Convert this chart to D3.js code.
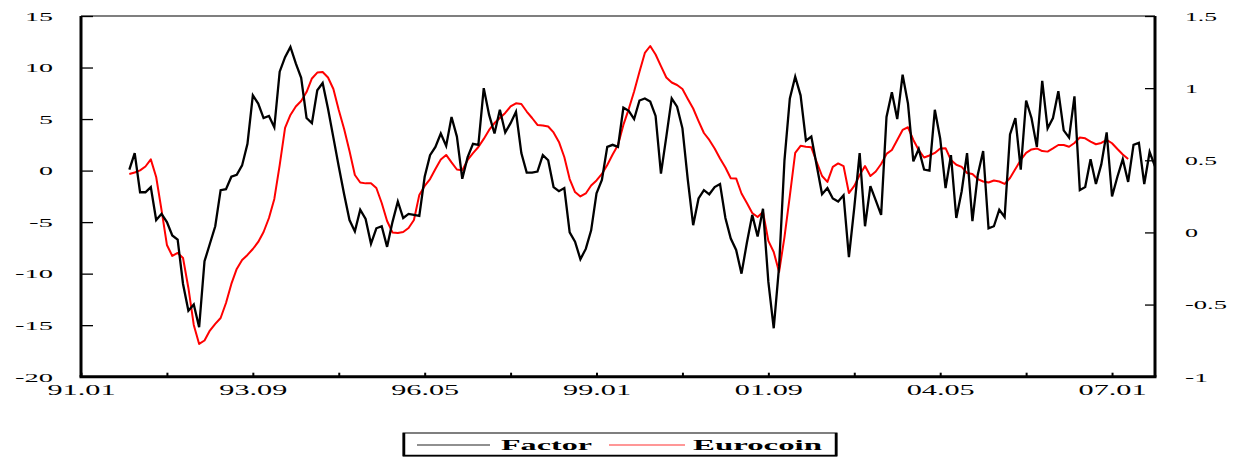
<!DOCTYPE html>
<html>
<head>
<meta charset="utf-8">
<script src="https://cdn.jsdelivr.net/npm/d3@7"></script>
<style>
  html, body { margin: 0; padding: 0; background: #fff; }
  svg { display: block; }
  text { font-family: "Liberation Serif", "Times New Roman", serif; fill: #000; }
</style>
</head>
<body>
<svg id="chart" width="1246" height="458"></svg>
<script>
// Months counted from January 1991 (0 = 91.01)
const firstMonth = 9;
const lastMonth = 200;

// Common factor, monthly (left axis)
const factor = [
  0.1, 1.7, -2.1, -2.1, -1.6, -4.8, -4.2, -5.0, -6.3, -6.7,
  -11.0, -13.6, -13.0, -15.2, -8.8, -7.1, -5.4, -1.9, -1.8, -0.6,
  -0.4, 0.5, 2.6, 7.3, 6.5, 5.1, 5.3, 4.2, 9.6, 11.0,
  12.0, 10.4, 9.0, 5.1, 4.6, 7.8, 8.5, 6.0, 3.2, 0.4,
  -2.3, -4.8, -5.9, -3.8, -4.7, -7.1, -5.6, -5.4, -7.4, -5.0,
  -3.0, -4.6, -4.2, -4.3, -4.4, -0.6, 1.5, 2.3, 3.6, 2.4,
  5.2, 3.3, -0.8, 1.3, 2.6, 2.5, 8.0, 5.4, 3.6, 5.9,
  3.7, 4.6, 5.7, 1.7, -0.2, -0.2, -0.1, 1.5, 1.0, -1.6,
  -2.0, -1.7, -6.0, -6.9, -8.6, -7.6, -5.8, -2.2, -0.9, 2.3,
  2.5, 2.3, 6.1, 5.8, 5.0, 6.8, 7.0, 6.7, 5.3, -0.3,
  3.3, 7.0, 6.2, 4.1, -0.9, -5.3, -2.7, -1.9, -2.3, -1.6,
  -1.3, -4.6, -6.6, -7.7, -10.0, -7.0, -4.3, -6.4, -3.7, -10.8,
  -15.3, -9.3, 1.0, 7.0, 9.1, 7.3, 2.9, 3.3, 0.5, -2.3,
  -1.7, -2.7, -3.0, -2.4, -8.4, -3.6, 1.7, -5.4, -1.5, -2.9,
  -4.3, 5.2, 7.6, 5.0, 9.3, 6.5, 0.9, 2.1, 0.1, 0.0,
  5.9, 3.1, -1.7, 1.5, -4.6, -2.0, 1.7, -4.9, -0.4, 1.9,
  -5.6, -5.4, -3.8, -4.5, 3.5, 5.1, 0.1, 6.8, 5.1, 2.3,
  8.7, 4.1, 5.1, 7.7, 3.9, 3.2, 7.2, -1.9, -1.6, 1.1,
  -1.3, 0.6, 3.7, -2.5, -0.6, 1.1, -1.1, 2.5, 2.7, -1.3,
  1.8, 0.4
];

// Eurocoin indicator, monthly (right axis)
const eurocoin = [
  0.405, 0.415, 0.43, 0.457, 0.506, 0.384, 0.155, -0.087, -0.163, -0.142,
  -0.177, -0.385, -0.641, -0.773, -0.749, -0.68, -0.634, -0.593, -0.489, -0.357,
  -0.253, -0.191, -0.156, -0.115, -0.066, 0.003, 0.1, 0.232, 0.467, 0.724,
  0.814, 0.873, 0.911, 0.973, 1.067, 1.108, 1.112, 1.074, 0.994, 0.849,
  0.717, 0.564, 0.398, 0.346, 0.34, 0.34, 0.308, 0.204, 0.079, 0.0,
  -0.004, 0.003, 0.031, 0.086, 0.26, 0.322, 0.37, 0.44, 0.506, 0.537,
  0.485, 0.436, 0.43, 0.502, 0.549, 0.592, 0.648, 0.71, 0.758, 0.793,
  0.828, 0.873, 0.895, 0.89, 0.838, 0.793, 0.745, 0.741, 0.734, 0.693,
  0.627, 0.523, 0.37, 0.28, 0.249, 0.27, 0.325, 0.36, 0.405, 0.467,
  0.54, 0.606, 0.745, 0.855, 0.977, 1.114, 1.244, 1.292, 1.233, 1.153,
  1.074, 1.039, 1.022, 0.994, 0.925, 0.859, 0.772, 0.689, 0.641, 0.582,
  0.512, 0.45, 0.375, 0.374, 0.27, 0.204, 0.135, 0.107, 0.142, -0.059,
  -0.136, -0.274, -0.032, 0.253, 0.551, 0.6, 0.594, 0.59, 0.488, 0.391,
  0.35, 0.454, 0.478, 0.46, 0.273, 0.322, 0.398, 0.46, 0.391, 0.422,
  0.474, 0.544, 0.571, 0.641, 0.71, 0.729, 0.641, 0.571, 0.519, 0.533,
  0.551, 0.582, 0.584, 0.502, 0.469, 0.454, 0.412, 0.405, 0.37, 0.353,
  0.346, 0.36, 0.353, 0.336, 0.377, 0.44, 0.502, 0.551, 0.575, 0.582,
  0.564, 0.56, 0.582, 0.606, 0.606, 0.594, 0.62, 0.658, 0.652, 0.63,
  0.611, 0.62, 0.641, 0.618, 0.578, 0.54, 0.509
];

// Axis ticks
const xTickMonths = [0, 16, 32, 48, 64, 80, 96, 112, 128, 144, 160, 176, 192];
const xTickLabels = ["91.01", "", "93.09", "", "96.05", "", "99.01", "", "01.09", "", "04.05", "", "07.01"];
const leftTicks = [15, 10, 5, 0, -5, -10, -15, -20];
const rightTicks = [1.5, 1, 0.5, 0, -0.5, -1];
const seriesNames = ["Factor", "Eurocoin"];

const svg = d3.select("#chart");
const plotLeft = 81, plotRight = 1155, plotTop = 16, plotBottom = 376.7;

const x = d3.scaleLinear().domain([0, 200]).range([plotLeft, plotRight]);
const yL = d3.scaleLinear().domain([-20, 15]).range([plotBottom, plotTop]);
const yR = d3.scaleLinear().domain([-1, 1.5]).range([plotBottom, plotTop]);

// Stretched serif labels: width from character count
function labelWidth(s, digit, dot, minus) {
  let w = 0;
  for (const c of s) w += c === "." ? dot : c === "-" ? minus : digit;
  return w;
}

// Series lines
const factorPts = factor.map((v, i) => [firstMonth + i, v]);
const euroPts = eurocoin.map((v, i) => [firstMonth + i, v]);

svg.append("path")
  .datum(euroPts)
  .attr("fill", "none")
  .attr("stroke", "#ff0000")
  .attr("stroke-width", 2)
  .attr("stroke-linejoin", "round")
  .attr("d", d3.line().x(d => x(d[0])).y(d => yR(d[1])));

svg.append("path")
  .datum(factorPts)
  .attr("fill", "none")
  .attr("stroke", "#000")
  .attr("stroke-width", 2.3)
  .attr("stroke-linejoin", "miter")
  .attr("d", d3.line().x(d => x(d[0])).y(d => yL(d[1])));

// Left axis with inward ticks
const gL = svg.append("g").attr("transform", `translate(${plotLeft},0)`)
  .call(d3.axisLeft(yL).tickValues(leftTicks).tickSize(-12).tickPadding(28)
    .tickFormat(d => String(d)));
gL.select(".domain").remove();
gL.selectAll(".tick line").attr("stroke", "#000").attr("stroke-width", 1.3);
gL.selectAll(".tick text")
  .attr("font-size", 12)
  .attr("font-family", "Liberation Serif")
  .attr("dy", "0.36em")
  .attr("lengthAdjust", "spacingAndGlyphs")
  .attr("textLength", d => labelWidth(String(d), 14, 6, 10));

// Right axis with inward ticks
const gR = svg.append("g").attr("transform", `translate(${plotRight},0)`)
  .call(d3.axisRight(yR).tickValues(rightTicks).tickSize(-10).tickPadding(30)
    .tickFormat(d => String(d)));
gR.select(".domain").remove();
gR.selectAll(".tick line").attr("stroke", "#000").attr("stroke-width", 1.3);
gR.selectAll(".tick text")
  .attr("font-size", 12)
  .attr("font-family", "Liberation Serif")
  .attr("dy", "0.36em")
  .attr("lengthAdjust", "spacingAndGlyphs")
  .attr("textLength", d => labelWidth(String(d), 13, 6, 10));

// Bottom axis: short upward marks, every second one labelled
const gB = svg.append("g").attr("transform", `translate(0,${plotBottom})`)
  .call(d3.axisBottom(x).tickValues(xTickMonths).tickSize(-4).tickPadding(12)
    .tickFormat((d, i) => xTickLabels[i]));
gB.select(".domain").remove();
gB.selectAll(".tick line").attr("stroke", "#000").attr("stroke-width", 2);
gB.selectAll(".tick text")
  .attr("font-size", 14)
  .attr("font-family", "Liberation Serif")
  .attr("dy", "0.45em")
  .attr("lengthAdjust", "spacingAndGlyphs")
  .attr("textLength", (d, i) => xTickLabels[i] ? labelWidth(xTickLabels[i], 15, 8, 10) : null);

// Frame
svg.append("line").attr("x1", plotLeft).attr("x2", plotRight).attr("y1", plotTop).attr("y2", plotTop)
  .attr("stroke", "#000").attr("stroke-width", 1.2);
svg.append("line").attr("x1", plotLeft - 1.5).attr("x2", plotRight + 1.5).attr("y1", plotBottom).attr("y2", plotBottom)
  .attr("stroke", "#000").attr("stroke-width", 3);
svg.append("line").attr("x1", plotLeft).attr("x2", plotLeft).attr("y1", plotTop).attr("y2", plotBottom)
  .attr("stroke", "#000").attr("stroke-width", 3);
svg.append("line").attr("x1", plotRight).attr("x2", plotRight).attr("y1", plotTop).attr("y2", plotBottom)
  .attr("stroke", "#000").attr("stroke-width", 3);

// Legend
const lg = svg.append("g");
lg.append("rect").attr("x", 403).attr("y", 433).attr("width", 434).attr("height", 23)
  .attr("fill", "#fff").attr("stroke", "#000").attr("stroke-width", 1);
lg.append("line").attr("x1", 404).attr("x2", 404).attr("y1", 433).attr("y2", 456)
  .attr("stroke", "#000").attr("stroke-width", 2.5);
lg.append("line").attr("x1", 836).attr("x2", 836).attr("y1", 433).attr("y2", 456)
  .attr("stroke", "#000").attr("stroke-width", 2.5);
lg.append("line").attr("x1", 403).attr("x2", 837).attr("y1", 455.5).attr("y2", 455.5)
  .attr("stroke", "#000").attr("stroke-width", 1.5);

const legendItems = [
  { name: seriesNames[0], color: "#222", x1: 417, x2: 490, tx: 501, tw: 91 },
  { name: seriesNames[1], color: "#ff3030", x1: 609, x2: 685, tx: 693, tw: 129 }
];
legendItems.forEach(it => {
  lg.append("line").attr("x1", it.x1).attr("x2", it.x2).attr("y1", 445).attr("y2", 445)
    .attr("stroke", it.color).attr("stroke-width", 1.2);
  lg.append("text").attr("x", it.tx).attr("y", 450)
    .attr("font-size", 14).attr("font-weight", "bold")
    .attr("lengthAdjust", "spacingAndGlyphs").attr("textLength", it.tw)
    .text(it.name);
});
</script>
</body>
</html>
